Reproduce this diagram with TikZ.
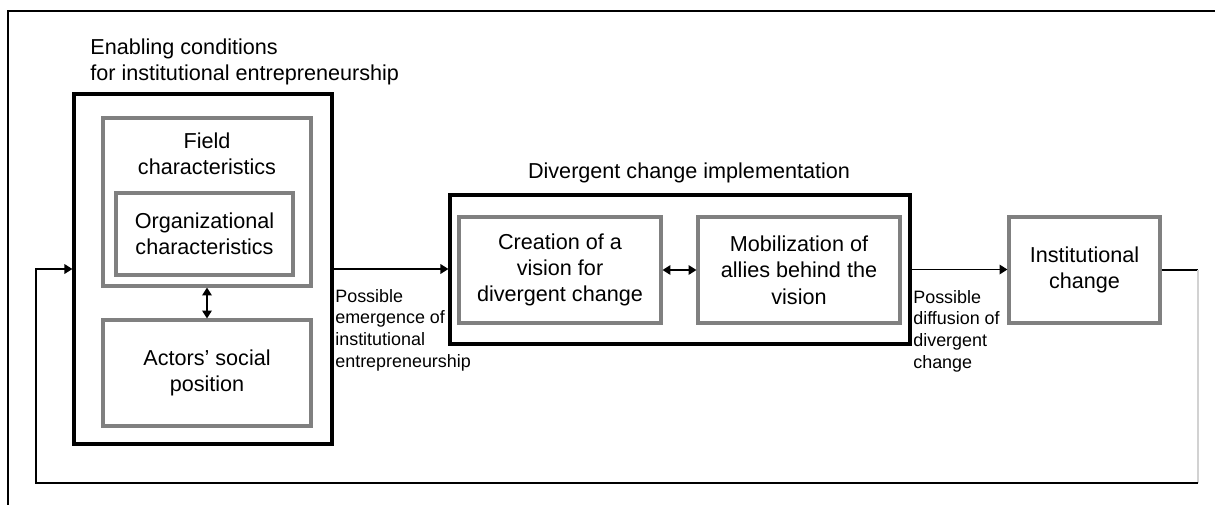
\documentclass[tikz,border=0pt]{standalone}
\usepackage{fontspec}
\setmainfont{Liberation Sans}
\usetikzlibrary{arrows.meta,positioning}

\tikzset{
  outerbox/.style={draw=black, line width=1.9pt, inner sep=0pt},
  greybox/.style={draw=gray, line width=1.8pt, fill=white, align=center, inner sep=0pt,
    font=\fontsize{12.3}{15}\selectfont},
  caption/.style={inner sep=0pt, align=left, font=\fontsize{12.3}{15}\selectfont},
  smalltext/.style={inner sep=0pt, align=left, font=\fontsize{10.2}{12.3}\selectfont},
  flow/.style={line width=0.75pt, -{Triangle[length=4.5pt,width=5.5pt]}},
  twoway/.style={line width=0.75pt, {Triangle[length=4.5pt,width=5.5pt]}-{Triangle[length=4.5pt,width=5.5pt]}}
}

\begin{document}
\begin{tikzpicture}[x=0.02cm, y=-0.02cm]
	\useasboundingbox (0,0) rectangle (1215,505);
	\draw[line width=1.1pt] (1215,11) -- (8,11) -- (8,505);

	\node [caption, anchor=north west] (enabletitle) at (90,38) {Enabling conditions\\for institutional entrepreneurship};
	\node [outerbox, minimum width=5.16cm, minimum height=7cm] (enable) at (203,269) {};
	\node [greybox, minimum width=4.16cm, minimum height=3.36cm] (field) at (207,202) {};
	\node [caption, align=center, anchor=north] (fieldtext) at (207,132) {Field\\characteristics};
	\node [greybox, minimum width=3.54cm, minimum height=1.64cm] (org) at (204.5,234) {Organizational\\characteristics};
	\node [greybox, minimum width=4.16cm, minimum height=2.12cm] (actors) at (207,373) {Actors' social\\position};

	\node [caption, anchor=south] (divtitle) at (689,183) {Divergent change implementation};
	\node [outerbox, minimum width=9.2cm, minimum height=2.98cm] (diverge) at (680,269.5) {};
	\node [greybox, minimum width=4.04cm, minimum height=2.12cm] (vision) at (560,270) {Creation of a\\vision for\\divergent change};
	\node [greybox, minimum width=4.04cm, minimum height=2.12cm] (allies) at (799,270) {Mobilization of\\allies behind the\\vision};

	\node [greybox, minimum width=3.02cm, minimum height=2.12cm] (instchange) at (1084.5,270) {Institutional\\change};

	\node [smalltext, anchor=north west] (emergence) at (335,289) {Possible\\emergence of\\institutional\\entrepreneurship};
	\node [smalltext, anchor=north west] (diffusion) at (913,290) {Possible\\diffusion of\\divergent\\change};

	\coordinate (loopright) at (1198,483);
	\coordinate (loopleft) at (36,483);

	\draw [twoway] (field) -- (actors);
	\draw [twoway] (vision) -- (allies);
	\draw [flow] (enable.east) -- (enable.east -| diverge.west);
	\draw [flow] (diverge.east) -- (diverge.east -| instchange.west);
	\draw [line width=0.75pt] (instchange.east) -- (instchange.east -| loopright);
	\draw [gray!35, line width=0.6pt] (instchange.east -| loopright) -- (loopright);
	\draw [flow] (loopright) -- (loopleft) |- (enable.west);
\end{tikzpicture}
\end{document}
